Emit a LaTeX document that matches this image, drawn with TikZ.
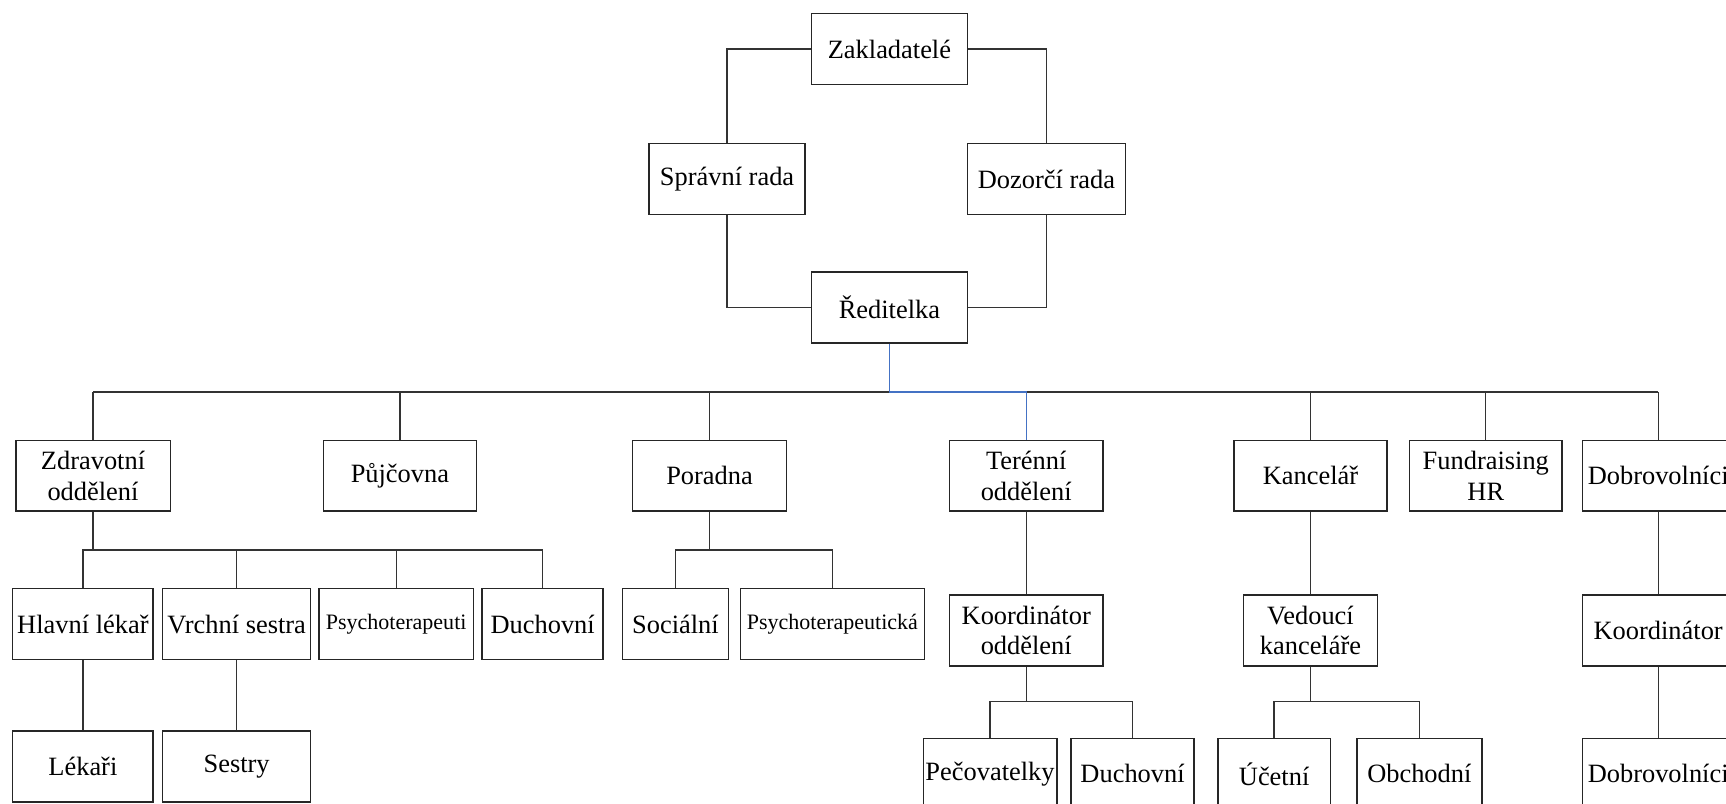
\documentclass[tikz,border=0pt]{standalone}
\usepackage{fontspec}
\setmainfont{Liberation Serif}
\usetikzlibrary{positioning}
\definecolor{linkblue}{RGB}{68,114,196}

\begin{document}
\begin{tikzpicture}[
    x=0.5pt, y=-0.5pt,
    unit/.style={
        draw=black!85,
        line width=0.7pt,
        align=center,
        inner sep=1pt,
        font=\fontsize{12}{13.8}\selectfont,
        minimum width=#1,
        minimum height=32.2pt
    },
    unit/.default=70pt,
    small/.style={font=\fontsize{10}{12}\selectfont},
    link/.style={draw=black!80, line width=0.6pt},
    bluelink/.style={draw=linkblue, line width=0.6pt}
]
\useasboundingbox (0,0) rectangle (1568,730);
\clip (0,0) rectangle (1568,730);

% ------------------------
% Top: founders, boards, director
% ------------------------
\node[unit=71pt] (zakl) at (808,44.6) {Zakladatelé};
\node[unit=71pt] (spravni) at (660.5,162.6) {Správní rada};
\node[unit=71.7pt] (dozorci) at (950.6,162.6) {Dozorčí rada};
\node[unit=71pt] (reditelka) at (808,279.2) {Ředitelka};

\draw[link] (zakl.west) -| (spravni.north);
\draw[link] (spravni.south) |- (reditelka.west);
\draw[link] (zakl.east) -| (dozorci.north);
\draw[link] (dozorci.south) |- (reditelka.east);

% ------------------------
% Departments
% ------------------------
\node[unit=70.2pt] (zdrav) at (84.5,432.2) {Zdravotní\\oddělení};
\node[unit=69.5pt] (pujc) at (363.3,432.2) {Půjčovna};
\node[unit=70.1pt] (poradna) at (644.6,432.2) {Poradna};
\node[unit=69.9pt] (terenni) at (932.3,432.2) {Terénní\\oddělení};
\node[unit=69.5pt] (kancelar) at (1190.5,432.2) {Kancelář};
\node[unit=69.4pt] (fundr) at (1349.8,432.2) {Fundraising\\HR};
\node[unit=68.9pt] (dobrov) at (1506.4,432.2) {Dobrovolníci};

\coordinate (bus) at (0,356.1);
\draw[link] (zdrav.north |- bus) -- (dobrov.north |- bus);
\foreach \n in {zdrav,pujc,poradna,kancelar,fundr,dobrov}
    \draw[link] (\n.north) -- (\n.north |- bus);
\draw[bluelink] (reditelka.south) |- (terenni.north |- bus) -- (terenni.north);

% ------------------------
% Zdravotni oddeleni
% ------------------------
\node[unit=63.8pt] (hlavni) at (75.3,567) {Hlavní lékař};
\node[unit=67.2pt] (vrchni) at (215,567) {Vrchní sestra};
\node[unit=70.2pt, small] (psychoter) at (359.9,567) {Psychoterapeuti};
\node[unit=55pt] (duchovni) at (493,567) {Duchovní};
\node[unit=63.8pt] (lekari) at (75.3,696.2) {Lékaři};
\node[unit=67.2pt] (sestry) at (215,696.2) {Sestry};

\coordinate (zbus) at (0,499.6);
\draw[link] (zdrav.south) -- (zdrav.south |- zbus);
\draw[link] (hlavni.north) |- (duchovni.north |- zbus) -- (duchovni.north);
\foreach \n in {vrchni,psychoter}
    \draw[link] (\n.north) -- (\n.north |- zbus);
\draw[link] (hlavni.south) -- (lekari.north);
\draw[link] (vrchni.south) -- (sestry.north);

% ------------------------
% Poradna
% ------------------------
\node[unit=48pt] (socialni) at (613.6,567) {Sociální};
\node[unit=83.6pt, small] (psychoterapeuticka) at (756.2,567) {Psychoterapeutická};

\draw[link] (poradna.south) -- (poradna.south |- zbus);
\draw[link] (socialni.north) |- (psychoterapeuticka.north |- zbus) -- (psychoterapeuticka.north);

% ------------------------
% Terenni oddeleni, kancelar, dobrovolnici
% ------------------------
\node[unit=69.9pt] (koordodd) at (932.3,572.7) {Koordinátor\\oddělení};
\node[unit=61pt] (vedouci) at (1190.5,572.7) {Vedoucí\\kanceláře};
\node[unit=68.9pt] (koord) at (1506.4,572.7) {Koordinátor};

\draw[link] (terenni.south) -- (koordodd.north);
\draw[link] (kancelar.south) -- (vedouci.north);
\draw[link] (dobrov.south) -- (koord.north);

\node[unit=59.6pt] (pecov) at (899.4,703) {Pečovatelky};
\node[unit=56pt] (duch2) at (1028.9,703) {Duchovní};
\node[unit=51.2pt] (ucetni) at (1157.5,703) {Účetní};
\node[unit=56.8pt] (obchodni) at (1289.4,703) {Obchodní};
\node[unit=68.9pt] (dobrov2) at (1506.4,703) {Dobrovolníci};

\coordinate (kbus) at (0,637.1);
\draw[link] (koordodd.south) -- (koordodd.south |- kbus);
\draw[link] (pecov.north) |- (duch2.north |- kbus) -- (duch2.north);
\draw[link] (vedouci.south) -- (vedouci.south |- kbus);
\draw[link] (ucetni.north) |- (obchodni.north |- kbus) -- (obchodni.north);
\draw[link] (koord.south) -- (dobrov2.north);

\end{tikzpicture}
\end{document}
